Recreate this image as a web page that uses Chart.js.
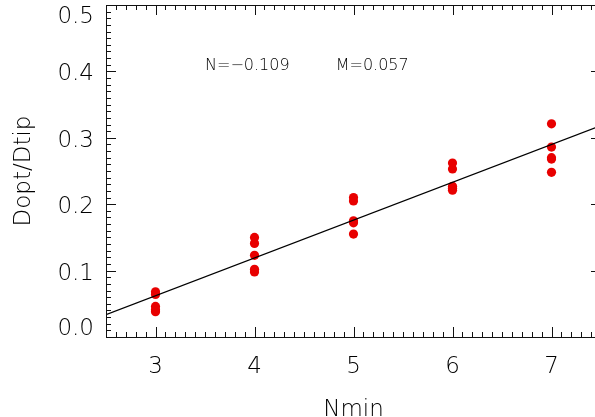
<!DOCTYPE html>
<html>
<head>
<meta charset="utf-8">
<script src="https://cdn.jsdelivr.net/npm/chart.js@4.4.1/dist/chart.umd.min.js"></script>
<style>
    html, body { margin: 0; padding: 0; background: #fff; overflow: hidden; }
    canvas { display: block; }
</style>
</head>
<body>
<canvas id="grafico" width="610" height="417"></canvas>
<script>
// valores
const nmin = [3, 4, 5, 6, 7]
const dopt = [
    [0.068, 0.064, 0.046, 0.041, 0.038],
    [0.150, 0.141, 0.123, 0.102, 0.098],
    [0.210, 0.205, 0.175, 0.172, 0.155],
    [0.262, 0.253, 0.227, 0.224, 0.221],
    [0.321, 0.286, 0.270, 0.268, 0.248]
]
// reta do ajuste
const ajusteX = [2.5, 7.5]
const ajusteY = [0.0335, 0.3185]
const textoN = "N=\u22120.109"
const textoM = "M=0.057"

const xTicks = [3, 4, 5, 6, 7]
const yTicks = [0.0, 0.1, 0.2, 0.3, 0.4, 0.5]

let pontos = []
nmin.forEach((n, i) => {
    dopt[i].forEach(v => pontos.push({ x: n, y: v }))
})

const corTexto = '#000'
const fonte = "'DejaVu Sans', sans-serif"

// eixos com ticks para dentro (estilo IDL)
const eixos = {
    id: 'eixos',
    afterDraw(chart) {
        const ctx = chart.ctx
        const a = chart.chartArea
        const sx = chart.scales.x
        const sy = chart.scales.y
        ctx.save()
        ctx.strokeStyle = '#111'
        ctx.lineWidth = 1
        ctx.beginPath()
        ctx.rect(a.left + 0.5, a.top + 0.5, a.right - a.left, a.bottom - a.top)
        ctx.stroke()

        ctx.beginPath()
        for (let i = 25; i <= 75; i++) {
            let v = i / 10
            let px = Math.round(sx.getPixelForValue(v)) + 0.5
            let len = (i % 10 == 0) ? 10 : 5
            ctx.moveTo(px, a.bottom); ctx.lineTo(px, a.bottom - len)
            ctx.moveTo(px, a.top); ctx.lineTo(px, a.top + len)
        }
        for (let i = 0; i <= 50; i++) {
            let v = i / 100
            let py = Math.round(sy.getPixelForValue(v)) + 0.5
            let len = (i % 10 == 0) ? 10 : 5
            ctx.moveTo(a.left, py); ctx.lineTo(a.left + len, py)
            ctx.moveTo(a.right, py); ctx.lineTo(a.right - len, py)
        }
        ctx.stroke()

        // rotulos do eixo y
        ctx.fillStyle = corTexto
        ctx.font = "300 23px " + fonte
        ctx.textAlign = 'right'
        ctx.textBaseline = 'middle'
        yTicks.forEach(v => {
            let py = sy.getPixelForValue(v) + 3
            py = Math.min(Math.max(py, 17), 329)
            ctx.fillText(v.toFixed(1), a.left - 12, py)
        })

        // coeficientes do ajuste
        ctx.font = "300 16px " + fonte
        ctx.textAlign = 'left'
        ctx.fillText(textoN, sx.getPixelForValue(3.5), sy.getPixelForValue(0.409))
        ctx.fillText(textoM, sx.getPixelForValue(4.82), sy.getPixelForValue(0.409))
        ctx.restore()
    }
}

const config = {
    type: 'scatter',
    data: {
        datasets: [{
            type: 'line',
            data: ajusteX.map((x, i) => ({ x: x, y: ajusteY[i] })),
            borderColor: '#000',
            borderWidth: 1.2,
            pointRadius: 0,
            order: 0
        }, {
            data: pontos,
            backgroundColor: '#e80000',
            borderWidth: 0,
            pointRadius: 4.6,
            order: 1
        }]
    },
    plugins: [eixos],
    options: {
        responsive: false,
        animation: false,
        layout: { padding: { top: 5, right: 9, left: 0, bottom: 0 } },
        plugins: { legend: { display: false }, tooltip: { enabled: false } },
        scales: {
            x: {
                type: 'linear',
                min: 2.5,
                max: 7.5,
                afterBuildTicks: (s) => { s.ticks = xTicks.map(v => ({ value: v })) },
                afterFit: (s) => { s.height = 80 },
                grid: { display: false, drawTicks: false },
                border: { display: false },
                ticks: {
                    padding: 16,
                    color: corTexto,
                    font: { family: fonte, size: 23, weight: 300 }
                },
                title: {
                    display: true,
                    text: 'Nmin',
                    color: corTexto,
                    font: { family: fonte, size: 23, weight: 300, lineHeight: 1 },
                    padding: { top: 0, bottom: -5 }
                }
            },
            y: {
                type: 'linear',
                min: 0,
                max: 0.5,
                afterFit: (s) => { s.width = 106 },
                grid: { display: false, drawTicks: false },
                border: { display: false },
                ticks: { display: false },
                title: {
                    display: true,
                    text: 'Dopt/Dtip',
                    color: corTexto,
                    font: { family: fonte, size: 23, weight: 300, lineHeight: 1 },
                    padding: { top: 13, bottom: 0 }
                }
            }
        }
    }
}

const meuGrafico = new Chart(document.getElementById('grafico'), config)
</script>
</body>
</html>
